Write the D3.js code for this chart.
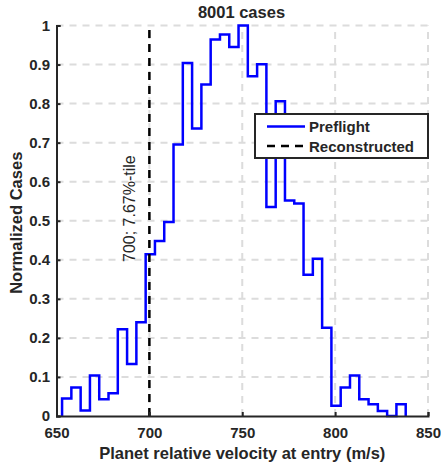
<!DOCTYPE html>
<html>
<head>
<meta charset="utf-8">
<script src="https://cdn.jsdelivr.net/npm/d3@7"></script>
<style>
  body { margin: 0; background: #fff; }
  text { font-family: "Liberation Sans", Arial, sans-serif; fill: #262626; }
</style>
</head>
<body>
<div id="chart"></div>
<script>
// histogram bins: 5 m/s wide, first left edge at 653
const binStart = 653;
const binWidth = 5;
const counts = [
  0.045, 0.073, 0.014, 0.104, 0.043, 0.058, 0.222, 0.133, 0.240, 0.414,
  0.448, 0.497, 0.695, 0.904, 0.736, 0.849, 0.964, 0.977, 0.945, 1.000,
  0.870, 0.901, 0.535, 0.806, 0.552, 0.544, 0.362, 0.403, 0.226, 0.026,
  0.073, 0.104, 0.043, 0.030, 0.013, 0.000, 0.030
];
const xTicks = [650, 700, 750, 800, 850];
const yTicks = [0, 0.1, 0.2, 0.3, 0.4, 0.5, 0.6, 0.7, 0.8, 0.9, 1];
const reconstructed = 700;
const annotation = "700; 7.67%-tile";
const legendItems = ["Preflight", "Reconstructed"];

const width = 441, height = 469;
const margin = { left: 56.5, right: 13, top: 25.5, bottom: 53 };

const svg = d3.select("#chart").append("svg")
  .attr("width", width).attr("height", height);

const x = d3.scaleLinear().domain([650, 850]).range([margin.left, width - margin.right]);
const y = d3.scaleLinear().domain([0, 1]).range([height - margin.bottom, margin.top]);

// grid
const grid = svg.append("g").attr("stroke", "#dcdcdc").attr("stroke-width", 2)
  .attr("stroke-dasharray", "7,6");
grid.selectAll(".gx").data(xTicks.slice(1)).join("line")
  .attr("x1", d => x(d)).attr("x2", d => x(d))
  .attr("y1", y(0)).attr("y2", y(1));
grid.selectAll(".gy").data(yTicks.slice(1)).join("line")
  .attr("x1", x(650)).attr("x2", x(850))
  .attr("y1", d => y(d)).attr("y2", d => y(d));

// histogram as stairs
const pts = [[binStart, 0]];
counts.forEach((c, i) => {
  const x0 = binStart + i * binWidth;
  pts.push([x0, c], [x0 + binWidth, c]);
});
pts.push([binStart + counts.length * binWidth, 0]);
svg.append("path")
  .attr("d", d3.line().x(d => x(d[0])).y(d => y(d[1]))(pts))
  .attr("fill", "none").attr("stroke", "#0000ff").attr("stroke-width", 2.5);

// reconstructed line
svg.append("line")
  .attr("x1", x(reconstructed)).attr("x2", x(reconstructed))
  .attr("y1", y(0)).attr("y2", y(1))
  .attr("stroke", "#000").attr("stroke-width", 2.5).attr("stroke-dasharray", "8,6");

svg.append("text")
  .attr("transform", `translate(${x(reconstructed) - 14},262) rotate(-90)`)
  .attr("font-size", 16).text(annotation);

// axes
const xAxis = svg.append("g").attr("transform", `translate(0,${y(0)})`)
  .call(d3.axisBottom(x).tickValues(xTicks).tickSize(-4).tickPadding(11));
const yAxis = svg.append("g").attr("transform", `translate(${x(650)},0)`)
  .call(d3.axisLeft(y).tickValues(yTicks).tickSize(-4).tickPadding(6.5).tickFormat(d3.format("~g")));
[xAxis, yAxis].forEach(g => {
  g.select(".domain").attr("stroke", "#262626").attr("stroke-width", 2);
  g.selectAll(".tick line").attr("stroke", "#262626").attr("stroke-width", 2);
  g.selectAll(".tick text").attr("font-size", 15).attr("font-weight", "bold")
    .attr("fill", "#262626").attr("font-family", "Liberation Sans, Arial, sans-serif");
});

// labels
svg.append("text").attr("x", 241.5).attr("y", 18)
  .attr("text-anchor", "middle").attr("font-size", 16.5).attr("font-weight", "bold")
  .attr("fill", "#000").text("8001 cases");
svg.append("text").attr("x", (x(650) + x(850)) / 2).attr("y", 459)
  .attr("text-anchor", "middle").attr("font-size", 16.5).attr("font-weight", "bold")
  .text("Planet relative velocity at entry (m/s)");
svg.append("text")
  .attr("transform", `translate(21.5,${(y(0) + y(1)) / 2 + 2}) rotate(-90)`)
  .attr("text-anchor", "middle").attr("font-size", 16.5).attr("font-weight", "bold")
  .text("Normalized Cases");

// legend
const lg = svg.append("g").attr("transform", "translate(255,114)");
lg.append("rect").attr("width", 173).attr("height", 44)
  .attr("fill", "#fff").attr("stroke", "#262626").attr("stroke-width", 2);
legendItems.forEach((t, i) => {
  const ly = 12.5 + i * 19.5;
  lg.append("line").attr("x1", 12).attr("x2", 50).attr("y1", ly).attr("y2", ly)
    .attr("stroke", i === 0 ? "#0000ff" : "#000").attr("stroke-width", 2.5)
    .attr("stroke-dasharray", i === 0 ? null : "8,6");
  lg.append("text").attr("x", 54).attr("y", ly + 5.5)
    .attr("font-size", 15).attr("font-weight", "bold").attr("fill", "#000").text(t);
});
</script>
</body>
</html>
